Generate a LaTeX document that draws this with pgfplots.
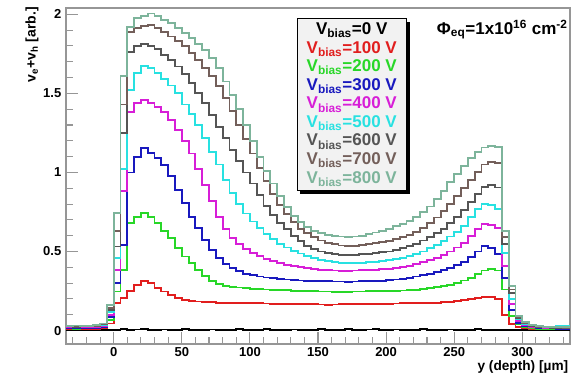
\documentclass[border=0pt]{standalone}
\usepackage{fontspec}
\setmainfont{Liberation Sans}
\usepackage{pgfplots}
\pgfplotsset{compat=1.18}
\usepackage{pgfplotstable}
\usetikzlibrary{shadows}

\definecolor{c0}{RGB}{0,0,0}
\definecolor{c100}{RGB}{225,30,30}
\definecolor{c200}{RGB}{40,215,40}
\definecolor{c300}{RGB}{25,25,190}
\definecolor{c400}{RGB}{215,30,215}
\definecolor{c500}{RGB}{40,225,225}
\definecolor{c600}{RGB}{85,85,85}
\definecolor{c700}{RGB}{115,95,90}
\definecolor{c800}{RGB}{125,180,155}
\definecolor{framegray}{RGB}{150,150,150}

\newcommand{\legendfont}{\fontsize{12.75}{13.9}\selectfont\bfseries\lineskiplimit=-20pt\relax}

% induced velocity sum per 5 um depth bin (left bin edge), one column per bias voltage
\pgfplotstableread{
x    v0    v100  v200  v300  v400  v500  v600  v700  v800
-35  0.002 0.009 0.013 0.016 0.022 0.030 0.026 0.028 0.030
-30  0.003 0.008 0.012 0.015 0.021 0.029 0.025 0.027 0.032
-25  0.002 0.009 0.013 0.016 0.022 0.028 0.026 0.029 0.030
-20  0.003 0.009 0.014 0.017 0.023 0.027 0.027 0.028 0.031
-15  0.002 0.010 0.015 0.018 0.024 0.028 0.028 0.030 0.033
-10  0.003 0.013 0.020 0.024 0.030 0.035 0.038 0.042 0.045
-5   0.004 0.045 0.065 0.085 0.100 0.115 0.130 0.145 0.160
0    0.006 0.175 0.247 0.300 0.384 0.458 0.532 0.627 0.743
5    0.008 0.205 0.384 0.542 0.880 1.020 1.250 1.430 1.610
10   0.005 0.250 0.680 1.000 1.380 1.520 1.760 1.890 1.920
15   0.007 0.290 0.720 1.100 1.440 1.630 1.800 1.915 1.975
20   0.009 0.315 0.743 1.154 1.456 1.675 1.810 1.925 1.990
25   0.006 0.300 0.720 1.125 1.440 1.660 1.800 1.930 2.005
30   0.005 0.268 0.680 1.090 1.415 1.630 1.780 1.915 1.990
35   0.007 0.247 0.627 1.045 1.380 1.590 1.745 1.890 1.965
40   0.004 0.226 0.585 0.975 1.330 1.550 1.710 1.860 1.945
45   0.006 0.208 0.520 0.890 1.270 1.500 1.670 1.830 1.915
50   0.008 0.196 0.468 0.805 1.200 1.430 1.620 1.800 1.880
55   0.005 0.188 0.426 0.720 1.120 1.370 1.565 1.755 1.850
60   0.004 0.184 0.384 0.648 1.020 1.300 1.500 1.710 1.815
65   0.006 0.181 0.345 0.575 0.920 1.220 1.440 1.660 1.775
70   0.007 0.179 0.315 0.510 0.820 1.130 1.365 1.610 1.725
75   0.005 0.177 0.295 0.460 0.720 1.050 1.290 1.545 1.660
80   0.004 0.176 0.283 0.420 0.640 0.950 1.220 1.470 1.575
85   0.006 0.175 0.277 0.395 0.585 0.870 1.140 1.390 1.490
90   0.008 0.174 0.272 0.375 0.545 0.800 1.070 1.300 1.400
95   0.005 0.174 0.268 0.360 0.515 0.740 1.000 1.210 1.300
100  0.004 0.173 0.265 0.350 0.490 0.690 0.930 1.120 1.200
105  0.006 0.172 0.262 0.342 0.470 0.650 0.860 1.030 1.100
110  0.009 0.171 0.260 0.336 0.452 0.612 0.790 0.945 1.010
115  0.006 0.170 0.258 0.331 0.438 0.578 0.730 0.865 0.930
120  0.004 0.170 0.256 0.327 0.426 0.550 0.680 0.795 0.850
125  0.005 0.169 0.254 0.323 0.416 0.525 0.640 0.735 0.780
130  0.007 0.168 0.252 0.320 0.407 0.505 0.600 0.685 0.725
135  0.005 0.168 0.250 0.317 0.400 0.487 0.565 0.645 0.685
140  0.004 0.167 0.249 0.315 0.394 0.472 0.535 0.615 0.655
145  0.006 0.166 0.248 0.313 0.389 0.458 0.515 0.590 0.630
150  0.008 0.165 0.247 0.312 0.385 0.447 0.500 0.570 0.615
155  0.005 0.160 0.247 0.311 0.382 0.438 0.490 0.555 0.605
160  0.004 0.165 0.246 0.310 0.380 0.431 0.483 0.545 0.598
165  0.006 0.166 0.246 0.310 0.379 0.427 0.480 0.538 0.595
170  0.009 0.167 0.246 0.308 0.379 0.425 0.479 0.535 0.593
175  0.006 0.168 0.247 0.310 0.380 0.426 0.480 0.536 0.595
180  0.004 0.168 0.247 0.311 0.381 0.428 0.482 0.540 0.600
185  0.007 0.169 0.248 0.312 0.383 0.432 0.486 0.545 0.610
190  0.010 0.170 0.248 0.314 0.385 0.436 0.490 0.552 0.620
195  0.006 0.166 0.249 0.316 0.388 0.440 0.495 0.560 0.630
200  0.005 0.170 0.250 0.319 0.392 0.445 0.500 0.568 0.645
205  0.007 0.171 0.251 0.323 0.397 0.452 0.510 0.578 0.660
210  0.005 0.172 0.253 0.328 0.403 0.460 0.520 0.590 0.675
215  0.004 0.172 0.255 0.334 0.410 0.470 0.535 0.605 0.695
220  0.006 0.173 0.258 0.342 0.420 0.483 0.550 0.625 0.720
225  0.008 0.175 0.262 0.350 0.432 0.500 0.570 0.650 0.750
230  0.005 0.176 0.267 0.360 0.445 0.520 0.590 0.680 0.785
235  0.004 0.177 0.273 0.372 0.460 0.540 0.615 0.715 0.830
240  0.006 0.179 0.280 0.385 0.478 0.565 0.645 0.755 0.885
245  0.007 0.181 0.290 0.395 0.500 0.595 0.680 0.800 0.940
250  0.005 0.185 0.302 0.412 0.525 0.625 0.720 0.850 0.990
255  0.004 0.192 0.317 0.435 0.555 0.660 0.765 0.900 1.040
260  0.006 0.200 0.335 0.465 0.600 0.720 0.815 0.950 1.090
265  0.008 0.208 0.357 0.500 0.645 0.770 0.865 1.005 1.130
270  0.006 0.215 0.380 0.536 0.675 0.800 0.910 1.050 1.158
275  0.005 0.212 0.390 0.520 0.668 0.795 0.920 1.068 1.165
280  0.004 0.198 0.380 0.485 0.650 0.770 0.905 1.060 1.162
285  0.005 0.100 0.260 0.330 0.410 0.490 0.550 0.590 0.630
290  0.003 0.040 0.090 0.130 0.170 0.200 0.240 0.260 0.280
295  0.003 0.020 0.040 0.050 0.060 0.070 0.080 0.085 0.090
300  0.002 0.015 0.025 0.030 0.035 0.040 0.045 0.050 0.055
305  0.003 0.010 0.015 0.020 0.025 0.030 0.030 0.032 0.035
310  0.002 0.008 0.012 0.016 0.020 0.028 0.022 0.025 0.028
315  0.002 0.008 0.011 0.014 0.018 0.026 0.020 0.022 0.025
320  0.003 0.007 0.010 0.013 0.016 0.026 0.018 0.020 0.022
325  0.002 0.007 0.010 0.012 0.016 0.028 0.018 0.020 0.020
330  0.002 0.007 0.010 0.012 0.015 0.028 0.016 0.018 0.020
335  0.002 0.007 0.010 0.012 0.015 0.028 0.016 0.018 0.020
}\profiles

\begin{document}
\begin{tikzpicture}
\begin{axis}[
  name=ax,
  width=378pt, height=252pt, scale only axis,
  xmin=-35, xmax=335, ymin=-0.085, ymax=2.04,
  axis line style={framegray, line width=1pt},
  xtick={0,50,...,300}, ytick={0,0.5,...,2},
  minor xtick={-30,-20,...,330},
  minor ytick={0.1,0.2,...,2.0},
  tick align=inside, xtick pos=bottom, ytick pos=left,
  major tick length=9pt, minor tick length=5pt,
  tick style={framegray, line width=0.8pt},
  /pgf/number format/assume math mode=true,
  ticklabel style={font=\fontsize{9.75}{11}\selectfont\bfseries},
  xticklabel style={inner sep=2pt},
  xlabel={y (depth) [µm]},
  xlabel style={at={(axis description cs:0.997,-0.05)}, anchor=north east,
    inner sep=0pt, font=\fontsize{10.25}{12}\selectfont\bfseries},
  ylabel={v\textsubscript{e}+v\textsubscript{h} [arb.]},
  ylabel style={at={(axis description cs:-0.0675,1.003)}, anchor=east,
    inner sep=0pt, font=\fontsize{10.5}{12}\selectfont\bfseries},
  no markers,
  every axis plot/.append style={const plot mark left, line width=1.4pt},
]
\addplot[c0]   table[x=x, y=v0]   {\profiles};
\addplot[c100] table[x=x, y=v100] {\profiles};
\addplot[c200] table[x=x, y=v200] {\profiles};
\addplot[c300] table[x=x, y=v300] {\profiles};
\addplot[c400] table[x=x, y=v400] {\profiles};
\addplot[c500] table[x=x, y=v500] {\profiles};
\addplot[c600] table[x=x, y=v600] {\profiles};
\addplot[c700] table[x=x, y=v700] {\profiles};
\addplot[c800] table[x=x, y=v800] {\profiles};

\node[anchor=north west, draw=black, line width=0.6pt, fill=black!5,
  drop shadow={shadow xshift=2.5pt, shadow yshift=-2.5pt, fill=black, opacity=1},
  minimum width=82pt, minimum height=128.8pt, inner sep=0pt, align=center,
  font={\legendfont}]
  at (axis description cs:0.4577,0.9693) {%
  \textcolor{c0}{V\textsubscript{bias}=0 V}\\
  \textcolor{c100}{V\textsubscript{bias}=100 V}\\
  \textcolor{c200}{V\textsubscript{bias}=200 V}\\
  \textcolor{c300}{V\textsubscript{bias}=300 V}\\
  \textcolor{c400}{V\textsubscript{bias}=400 V}\\
  \textcolor{c500}{V\textsubscript{bias}=500 V}\\
  \textcolor{c600}{V\textsubscript{bias}=600 V}\\
  \textcolor{c700}{V\textsubscript{bias}=700 V}\\
  \textcolor{c800}{V\textsubscript{bias}=800 V}};

\node[anchor=base west, inner sep=0pt, font=\fontsize{12.75}{14}\selectfont\bfseries]
  at (axis description cs:0.7355,0.9217)
  {Φ\textsubscript{eq}=1x10\textsuperscript{16} cm\textsuperscript{-2}};
\end{axis}
\pgfresetboundingbox
\path[use as bounding box] ([xshift=-49.5pt,yshift=-23.25pt]ax.south west)
  rectangle ([xshift=8.25pt,yshift=6pt]ax.north east);
\end{tikzpicture}
\end{document}
